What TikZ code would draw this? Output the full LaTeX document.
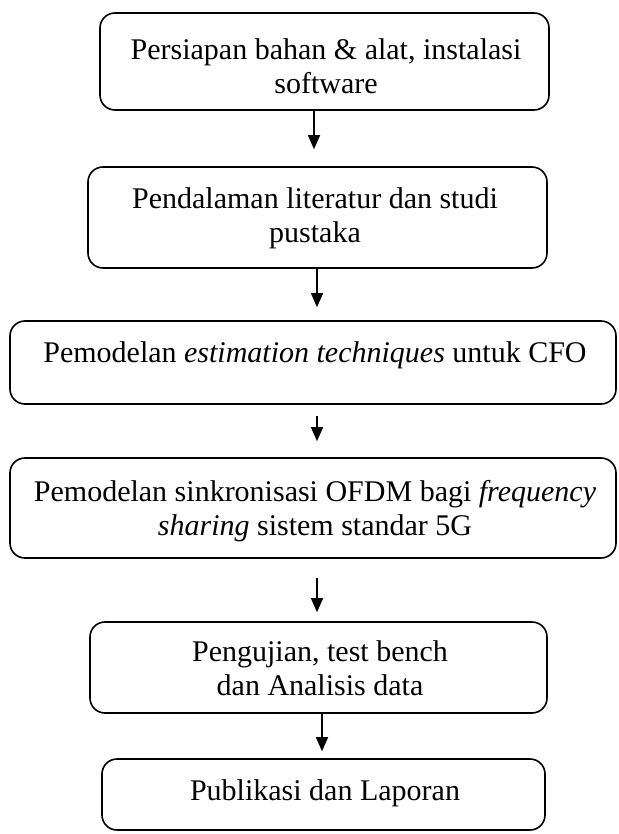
\documentclass[tikz,border=0pt]{standalone}
\usepackage{fontspec}
\setmainfont{Liberation Serif}
\usetikzlibrary{arrows.meta}
\begin{document}
\begin{tikzpicture}[x=1pt,y=-1pt,
  stage/.style={draw, line width=1.6pt, rounded corners=15pt, inner sep=0pt},
  txt/.style={align=center, inner sep=0pt, font=\fontsize{30}{34}\selectfont},
  flow/.style={line width=1.4pt, -{Triangle[length=14pt,width=12pt]}}]
\useasboundingbox (0,0) rectangle (618,834);

% process boxes (y grows downward)
\node[stage, minimum width=449pt, minimum height=97pt]  (b1) at (324.5,61.5) {};
\node[stage, minimum width=459pt, minimum height=101pt] (b2) at (317.5,217.5) {};
\node[stage, minimum width=606pt, minimum height=83pt]  (b3) at (313,362.5) {};
\node[stage, minimum width=606pt, minimum height=100pt] (b4) at (313,508) {};
\node[stage, minimum width=457pt, minimum height=91pt]  (b5) at (318.5,667.5) {};
\node[stage, minimum width=443pt, minimum height=71pt]  (b6) at (323.5,794.5) {};

% box texts
\node[txt] (t1) at (326,66) {Persiapan bahan \& alat, instalasi\\software};
\node[txt] (t2) at (315,218) {Pendalaman literatur dan studi\\pustaka};
\node[txt] (t3) at (315,355) {Pemodelan \textit{estimation techniques} untuk CFO};
\node[txt] (t4) at (315,511) {Pemodelan sinkronisasi OFDM bagi \textit{frequency}\\\textit{sharing} sistem standar 5G};
\node[txt] (t5) at (320,668) {Pengujian, test bench\\dan Analisis data};
\node[txt] (t6) at (325,793) {Publikasi dan Laporan};

% connectors between the stages
\draw[flow, shorten >=17pt] (b1.south -| 314,0) -- (b2.north -| 314,0);
\draw[flow, shorten >=13pt] (b2.south -| 317,0) -- (b3.north -| 317,0);
\draw[flow, shorten <=11pt, shorten >=16pt] (b3.south -| 317,0) -- (b4.north -| 317,0);
\draw[flow, shorten <=19pt, shorten >=9pt] (b4.south -| 317,0) -- (b5.north -| 317,0);
\draw[flow, shorten >=7pt] (b5.south -| 322,0) -- (b6.north -| 322,0);
\end{tikzpicture}
\end{document}
